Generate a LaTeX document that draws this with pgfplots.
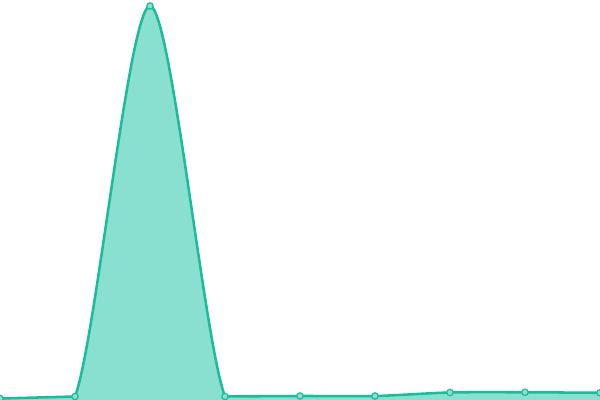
\documentclass[border=0pt]{standalone}
\usepackage{pgfplots}
\pgfplotsset{compat=1.18}
\definecolor{teal1}{HTML}{1ABC9C}
\definecolor{tealfill}{HTML}{8AE0D0}

\begin{document}
\begin{tikzpicture}
\begin{axis}[
  name=ax,
  width=450pt, height=300pt, scale only axis,
  hide axis,
  xmin=0, xmax=600, ymin=0, ymax=400,
  clip mode=individual,
]
% peak: smooth through its neighbours, kept between 75 and 225
\begin{scope}
\clip (axis cs:75,0) rectangle (axis cs:225,400);
\addplot[draw=none, fill=tealfill, smooth, tension=0.5] coordinates {
(0,1.5) (75,3.5) (150,394) (225,3.5) (300,4)
} \closedcycle;
\addplot[teal1, line width=1.9pt, smooth, tension=0.5] coordinates {
(0,1.5) (75,3.5) (150,394) (225,3.5) (300,4)
};
\end{scope}
% left flank
\addplot[draw=none, fill=tealfill] coordinates {(0,1.5) (75,3.5)} \closedcycle;
\addplot[teal1, line width=1.9pt] coordinates {(0,1.5) (75,3.5)};
% right flank
\addplot[draw=none, fill=tealfill, smooth] coordinates {
(225,3.5) (300,4) (375,4) (450,7.5) (525,7.7) (600,7.2)
} \closedcycle;
\addplot[teal1, line width=1.9pt, smooth] coordinates {
(225,3.5) (300,4) (375,4) (450,7.5) (525,7.7) (600,7.2)
};
% points
\addplot[only marks, mark=*, mark size=2.4pt,
  mark options={draw=teal1, fill=tealfill, line width=0.9pt}] coordinates {
(0,1.5) (75,3.5) (150,394) (225,3.5) (300,4) (375,4) (450,7.5) (525,7.7) (600,7.2)
};
\end{axis}
\pgfresetboundingbox
\path (ax.south west) rectangle (ax.north east);
\end{tikzpicture}
\end{document}
